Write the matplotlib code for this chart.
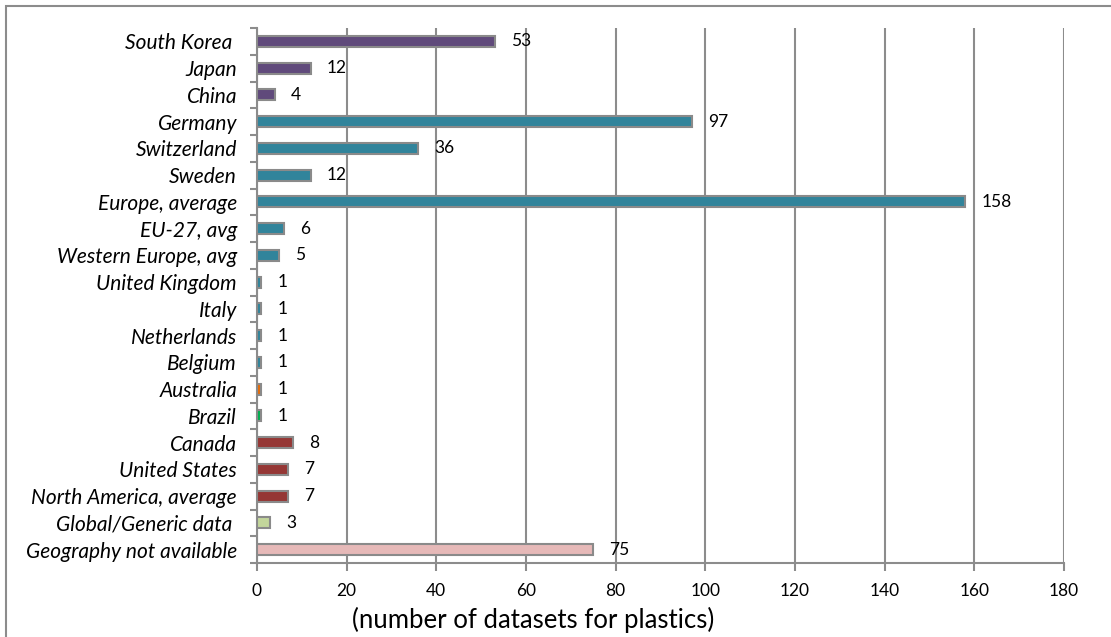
import matplotlib
matplotlib.use("Agg")
import matplotlib.pyplot as plt
from matplotlib.patches import Rectangle
import numpy as np

regions = [
    "South Korea ", "Japan", "China", "Germany", "Switzerland", "Sweden",
    "Europe, average", "EU-27, avg", "Western Europe, avg", "United Kingdom",
    "Italy", "Netherlands", "Belgium", "Australia", "Brazil", "Canada",
    "United States", "North America, average", "Global/Generic data ",
    "Geography not available",
]
datasets = [53, 12, 4, 97, 36, 12, 158, 6, 5, 1, 1, 1, 1, 1, 1, 8, 7, 7, 3, 75]
bar_colors = (
    ["#604A7B"] * 3
    + ["#31849B"] * 10
    + ["#E46C0A", "#00B050"]
    + ["#953735"] * 3
    + ["#C3D69B", "#E6B9B8"]
)
x_ticks = [0, 20, 40, 60, 80, 100, 120, 140, 160, 180]

W, H = 1111, 637
fig = plt.figure(figsize=(W / 100, H / 100), dpi=100)
plt.rcParams["font.family"] = ["Lato", "DejaVu Sans"]

# outer chart frame
fig.patches.append(Rectangle((6 / W, -0.1), 1.2, 1 - 6 / H + 0.1,
                             transform=fig.transFigure, fill=False,
                             edgecolor="#8C8C8C", linewidth=1.5))

ax = fig.add_axes([257 / W, 1 - 563 / H, (1064 - 257) / W, (563 - 28) / H])

n = len(regions)
y = np.arange(n)
ax.barh(y, datasets, height=0.41, color=bar_colors,
        edgecolor="#8A8A8A", linewidth=1.5, zorder=3)

for yi, v in zip(y, datasets):
    ax.annotate(str(v), (v, yi), xytext=(11.5, 0), textcoords="offset points",
                ha="left", va="center", fontsize=12.5, color="black",
                zorder=4)

ax.set_ylim(n - 0.5, -0.5)
ax.set_xlim(0, 180)
ax.set_xticks(x_ticks)
ax.set_xticklabels([str(t) for t in x_ticks], fontsize=12.5)
ax.set_yticks(y)
ax.set_yticklabels(regions, fontsize=15, style="italic")
ax.set_yticks(np.arange(n + 1) - 0.5, minor=True)

ax.tick_params(axis="y", which="major", length=0, pad=14.4)
ax.tick_params(axis="y", which="minor", length=5, width=1.5, color="#8C8C8C",
               direction="out")
ax.tick_params(axis="x", which="major", length=6, width=1.5, color="#8C8C8C",
               direction="out", pad=8.5)

ax.grid(axis="x", color="#8C8C8C", linewidth=1.5, zorder=0)
for side in ["top", "right"]:
    ax.spines[side].set_visible(False)
for side in ["left", "bottom"]:
    ax.spines[side].set_color("#8C8C8C")
    ax.spines[side].set_linewidth(1.5)

fig.text(533 / W, 1 - 620 / H, "(number of datasets for plastics)",
         ha="center", va="center", fontsize=18.5)

fig.savefig("out.png", dpi=100)
